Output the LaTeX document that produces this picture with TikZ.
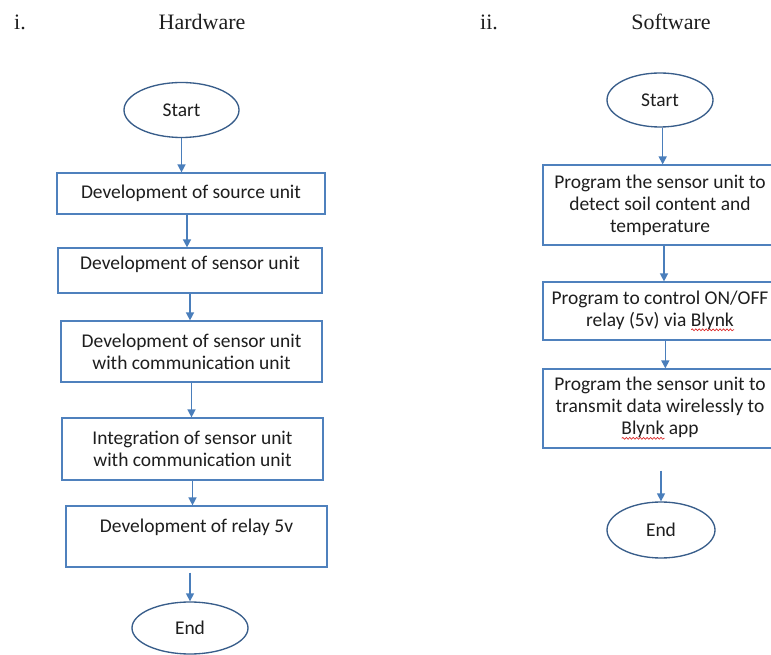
\documentclass[tikz,border=0pt]{standalone}
\usepackage{fontspec}
\setmainfont{Carlito}
\newfontfamily\headfont{Liberation Serif}
\usetikzlibrary{shapes.geometric,arrows.meta,decorations.pathmorphing}
\definecolor{boxline}{RGB}{79,129,189}
\definecolor{ovalline}{RGB}{56,93,138}
\definecolor{arrowc}{RGB}{74,126,187}
\definecolor{txt}{RGB}{30,30,30}
\definecolor{spellred}{RGB}{220,40,40}
\newsavebox\squigbox
\newcommand\squigword[1]{\sbox\squigbox{#1}%
  \rlap{\raisebox{-3.5pt}{\tikz[x=1pt,y=1pt]\draw[spellred, line width=0.5pt, decorate,
    decoration={snake,amplitude=0.7pt,segment length=2.6pt}] (0,0) -- (\wd\squigbox,0);}}%
  \usebox\squigbox}
\begin{document}
\begin{tikzpicture}[x=0.75pt,y=-0.75pt,
  stepbox/.style={draw=boxline, line width=0.9pt, rectangle, align=center,
    font=\fontsize{14.6}{16.5}\selectfont, text=txt, inner sep=0pt},
  term/.style={draw=ovalline, line width=1pt, ellipse,
    font=\fontsize{14.6}{16.5}\selectfont, text=txt, inner sep=0pt},
  flow/.style={draw=arrowc, line width=1.1pt, -{Triangle[length=6pt,width=6pt]}},
  head/.style={font=\headfont\fontsize{16.5}{19}\selectfont, text=txt, anchor=base, inner sep=0pt}]
\useasboundingbox[fill=white] (0,0) rectangle (771,655);

% headers
\node[head] (hi) at (20,30) {i.};
\node[head] (hw) at (202,30) {Hardware};
\node[head] (hii) at (489,30) {ii.};
\node[head] (sw) at (671,30) {Software};

% hardware column
\node[term, minimum width=86.25pt, minimum height=41.25pt] (LS) at (181.5,110) {Start};
\node[stepbox, minimum width=201pt, minimum height=30.75pt] (B1) at (191,193.5) {Development of source unit};
\node[stepbox, minimum width=198pt, minimum height=33.75pt, text depth=11pt] (B2) at (190,270.5) {Development of sensor unit};
\node[stepbox, minimum width=195.75pt, minimum height=45.75pt] (B3) at (191.5,351.5) {Development of sensor unit\\with communication unit};
\node[stepbox, minimum width=195.75pt, minimum height=46.5pt] (B4) at (192.5,449) {Integration of sensor unit\\with communication unit};
\node[stepbox, minimum width=195.75pt, minimum height=45.75pt, text depth=16pt] (B5) at (196.5,536.5) {Development of relay 5v};
\node[term, minimum width=87pt, minimum height=39pt] (LE) at (190,628) {End};

\draw[flow] (LS.south) -- (LS.south |- B1.north);
\draw[flow] ([xshift=-3pt]B1.south) -- ([xshift=-3pt]B1.south |- B2.north);
\draw[flow] (B2.south) -- (B2.south |- B3.north);
\draw[flow] (B3.south) -- (B3.south |- B4.north);
\draw[flow] (B4.south) -- (B4.south |- B5.north);
\draw[flow] ([yshift=-3.75pt]B5.south -| LE.north) -- (LE.north);

% software column
\node[term, minimum width=79.5pt, minimum height=40.5pt] (RS) at (660,100) {Start};
\node[stepbox, minimum width=175.5pt, minimum height=60pt] (R1) at (660,205) {Program the sensor unit to\\detect soil content and\\temperature};
\node[stepbox, minimum width=175.5pt, minimum height=43.5pt] (R2) at (660,311) {Program to control ON/OFF\\relay (5v) via \squigword{Blynk}};
\node[stepbox, minimum width=175.5pt, minimum height=59.25pt] (R3) at (660,408.5) {Program the sensor unit to\\transmit data wirelessly to\\\squigword{Blynk} app};
\node[term, minimum width=81pt, minimum height=42pt] (RE) at (661,530) {End};

\draw[flow] ([xshift=2pt]RS.south) -- ([xshift=2pt]RS.south |- R1.north);
\draw[flow] ([xshift=3pt]R1.south) -- ([xshift=3pt]R1.south |- R2.north);
\draw[flow] ([xshift=4pt]R2.south) -- ([xshift=4pt]R2.south |- R3.north);
\draw[flow] ([yshift=-16.5pt]R3.south -| RE.north) -- (RE.north);
\end{tikzpicture}
\end{document}
